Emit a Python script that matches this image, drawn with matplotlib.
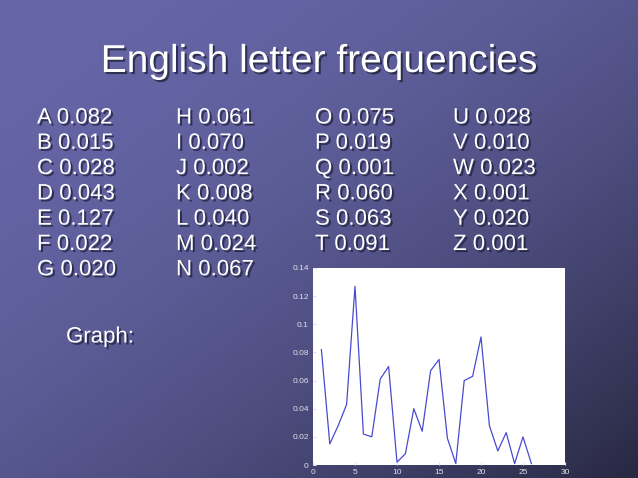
import numpy as np
import matplotlib.pyplot as plt
import matplotlib.patheffects as pe

letters = list("ABCDEFGHIJKLMNOPQRSTUVWXYZ")
freqs = [0.082, 0.015, 0.028, 0.043, 0.127, 0.022, 0.020,
         0.061, 0.070, 0.002, 0.008, 0.040, 0.024, 0.067,
         0.075, 0.019, 0.001, 0.060, 0.063, 0.091,
         0.028, 0.010, 0.023, 0.001, 0.020, 0.001]
labels = ["%s %.3f" % (l, f) for l, f in zip(letters, freqs)]
columns = [labels[0:7], labels[7:14], labels[14:20], labels[20:26]]
xpos = np.arange(1, 27)

plt.rcParams['font.family'] = ['Liberation Sans', 'DejaVu Sans']

fig = plt.figure(figsize=(6.38, 4.78), dpi=100)

# slide background: diagonal gradient, light top-left to dark bottom-right
bg = fig.add_axes([0, 0, 1, 1])
gx, gy = np.meshgrid(np.linspace(0, 1, 320), np.linspace(0, 1, 240))
t = ((gx + gy) / 2) ** 2
c0 = np.array([102, 102, 168]) / 255
c1 = np.array([40, 40, 66]) / 255
img = c0 + (c1 - c0) * t[..., None]
bg.imshow(img, aspect='auto', extent=[0, 1, 0, 1], origin='upper')
bg.set_xlim(0, 1)
bg.set_ylim(0, 1)
bg.axis('off')

shadow = [pe.withSimplePatchShadow(offset=(1.5, -1.5), shadow_rgbFace='#1a1a30', alpha=0.7)]

bg.text(319 / 638, 1 - 62 / 478, "English letter frequencies", fontsize=28,
        color='white', ha='center', va='center', path_effects=shadow)

col_x = [37, 176, 315, 453]
for cx, col in zip(col_x, columns):
    for i, s in enumerate(col):
        y = 118 + i * 25.3
        bg.text(cx / 638, 1 - y / 478, s, fontsize=16, color='white',
                ha='left', va='center', path_effects=shadow)

bg.text(66 / 638, 1 - 337 / 478, "Graph:", fontsize=16, color='white',
        ha='left', va='center', path_effects=shadow)

# inset plot
ax = fig.add_axes([313 / 638, 13 / 478, 252 / 638, 197 / 478])
ax.set_facecolor('white')
ax.plot(xpos, freqs, color='#4a4ad0', linewidth=0.9)
ax.set_xlim(0, 30)
ax.set_ylim(0, 0.14)
ax.set_xticks([0, 5, 10, 15, 20, 25, 30])
ax.set_yticks([0, 0.02, 0.04, 0.06, 0.08, 0.1, 0.12, 0.14])
ax.set_yticklabels(['0', '0.02', '0.04', '0.06', '0.08', '0.1', '0.12', '0.14'])
ax.tick_params(direction='in', length=2, colors='#e0e0e8', labelsize=6, pad=3)
for sp in ax.spines.values():
    sp.set_visible(False)

fig.savefig('out.png', dpi=100)
